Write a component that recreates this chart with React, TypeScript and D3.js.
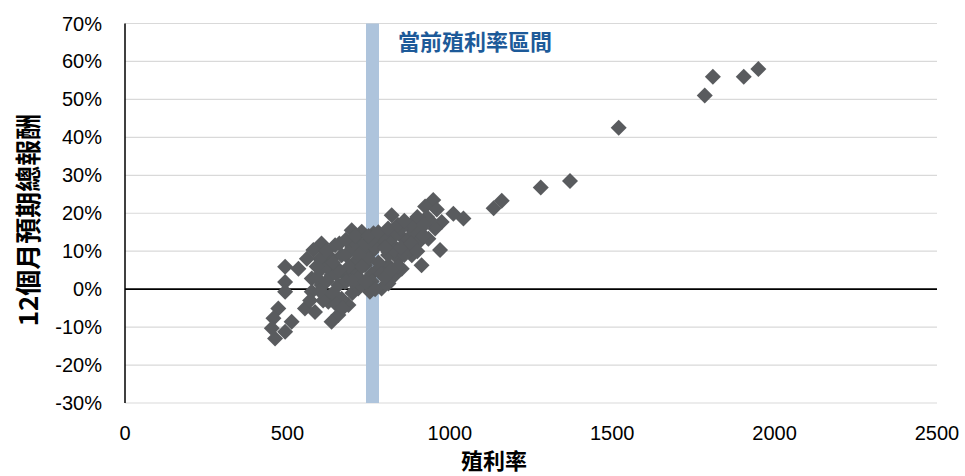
import React from "react";
import * as d3 from "d3";

const yTicks = [-0.3, -0.2, -0.1, 0, 0.1, 0.2, 0.3, 0.4, 0.5, 0.6, 0.7];
const xTicks = [0, 500, 1000, 1500, 2000, 2500];
const bandRange = [742, 782];
const bandLabel = "當前殖利率區間";
const xTitle = "殖利率";
const yTitle = "12個月預期總報酬";

// [dividend yield value, 12M total return %]
const points: [number, number][] = [
  [1950, 58], [1905, 56], [1810, 56], [1785, 51], [1520, 42.5], [1370, 28.5], [1280, 26.8],
  [1160, 23.3], [1135, 21.3], [1042, 18.6], [1011, 19.9], [975, 17.7], [970, 10.3], [955, 16],
  [949, 23.5], [924, 21.8], [913, 6.3], [903, 17.7], [893, 13.3], [883, 8.9], [872, 16.8],
  [862, 11.6], [852, 5.4], [841, 8.1], [831, 14.2], [831, 3.7], [821, 19.5], [811, 6.3],
  [811, 9.8], [811, 1.5], [790, 12.4], [790, 0.2], [780, 5.4], [765, 14.7], [759, 9.8],
  [754, -0.7], [739, 6.3], [729, 15.1], [718, 12.4], [718, 0.2], [708, 4.6], [708, 7.2],
  [698, 15.5], [688, -4.2], [683, 3.2], [677, 1.9], [667, 8.9], [667, -2.5], [657, 1.1],
  [657, -6.8], [647, 11.6], [636, 8.1], [636, 3.7], [636, -8.6], [626, -3.3], [616, -1.6],
  [605, 12], [605, 5.4], [605, 1.1], [585, -6], [580, 10.3], [575, 2.8], [575, -0.7],
  [554, -5.1], [534, 5.4], [513, -8.6], [493, 5.9], [493, 1.9], [493, -0.7], [493, -11.2],
  [472, -5.1], [462, -13], [457, -7.7], [452, -10.3], [934, 13.3],
  [620, 6], [650, 4], [680, 9], [700, 11], [730, 10], [750, 8], [770, 11], [800, 13],
  [820, 12], [850, 14], [870, 13], [890, 15], [910, 16], [780, 7], [810, 9], [760, 4],
  [720, 3], [690, 6], [660, 5], [640, 7], [600, 8], [620, 10], [700, 13], [740, 12],
  [830, 10], [860, 9], [900, 12], [920, 14], [940, 18], [880, 17], [850, 16], [800, 11],
  [760, 13], [720, 9], [680, 2], [590, 3], [610, -3], [640, -1], [700, -1], [760, 2],
  [730, 6], [790, 4], [840, 6], [870, 11], [930, 19], [960, 21], [600, -0.5], [620, 2],
  [650, -4], [670, -5], [700, 2], [740, 2], [770, 0], [800, 3], [820, 5], [850, 11],
  [880, 12], [900, 10], [660, 12], [680, 13], [710, 14], [750, 14], [780, 15], [810, 16],
  [840, 17], [860, 18], [900, 19], [920, 17], [560, 8], [590, 6], [570, -3],
];

const W = 965;
const H = 476;
const left = 125;
const right = 937;
const top = 23.5;
const bottom = 403;

export default function App() {
  const x = d3.scaleLinear().domain([0, 2500]).range([left, right]);
  const y = d3.scaleLinear().domain([-0.3, 0.7]).range([bottom, top]);
  const diamond = d3.symbol().type(d3.symbolSquare).size(128)();
  const pctFmt = (t: number) => d3.format(".0%")(t).replace("\u2212", "-");
  const latin = "'Liberation Sans', Arial, sans-serif";
  const cjk = "'Noto Sans CJK TC', 'Noto Sans CJK SC', sans-serif";

  return (
    <svg
      width={W}
      height={H}
      style={{ position: "absolute", left: 0, top: 0, background: "#fff" }}
    >
      {yTicks
        .filter((t) => t !== 0)
        .map((t) => (
          <line
            key={"g" + t}
            x1={left}
            x2={right}
            y1={y(t)}
            y2={y(t)}
            stroke="#d9d9d9"
            strokeWidth={1.2}
          />
        ))}
      <rect
        x={x(bandRange[0])}
        y={top}
        width={x(bandRange[1]) - x(bandRange[0])}
        height={bottom - top}
        fill="#aec4dc"
      />
      <line x1={left} x2={right} y1={y(0)} y2={y(0)} stroke="#000" strokeWidth={1.8} />
      <g fill="#595b5e">
        {points.map((p, i) => (
          <path
            key={i}
            d={diamond || ""}
            transform={`translate(${x(p[0])},${y(p[1] / 100)}) rotate(45)`}
          />
        ))}
      </g>
      <line x1={left} x2={left} y1={top} y2={bottom} stroke="#000" strokeWidth={1.5} />
      {yTicks.map((t) => (
        <text
          key={"yt" + t}
          x={102}
          y={y(t) + 7}
          textAnchor="end"
          fontFamily={latin}
          fontSize={20}
          fill="#000"
        >
          {pctFmt(t)}
        </text>
      ))}
      {xTicks.map((t) => (
        <text
          key={"xt" + t}
          x={x(t)}
          y={439.5}
          textAnchor="middle"
          fontFamily={latin}
          fontSize={20}
          fill="#000"
        >
          {t}
        </text>
      ))}
      <text
        x={398}
        y={50}
        fontFamily={cjk}
        fontSize={22}
        fontWeight={700}
        fill="#1d5a99"
      >
        {bandLabel}
      </text>
      <text
        x={494}
        y={469}
        textAnchor="middle"
        fontFamily={cjk}
        fontSize={22}
        fontWeight={600}
        fill="#000"
      >
        {xTitle}
      </text>
      <text
        transform={`translate(38,220) rotate(-90)`}
        textAnchor="middle"
        fontFamily={cjk}
        fontSize={26}
        fontWeight={600}
        fill="#000"
      >
        {yTitle}
      </text>
    </svg>
  );
}
